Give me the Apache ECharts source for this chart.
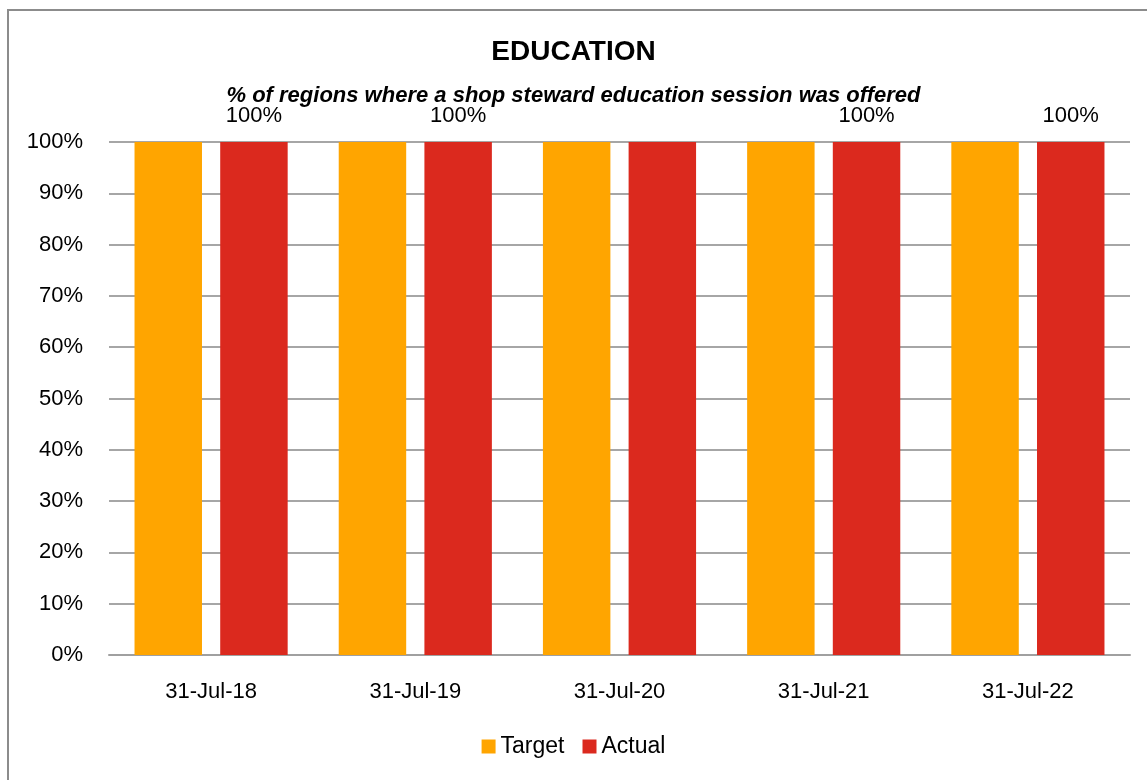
<!DOCTYPE html>
<html>
<head>
<meta charset="utf-8">
<script src="https://cdn.jsdelivr.net/npm/echarts@6/dist/echarts.min.js"></script>
<style>
    html, body { margin: 0; padding: 0; background: #fff; }
    #edu-chart { width: 1147px; height: 780px; }
</style>
</head>
<body>
<div id="edu-chart"></div>
<script type="text/javascript">
    // data
    var categories = ['31-Jul-18', '31-Jul-19', '31-Jul-20', '31-Jul-21', '31-Jul-22'];
    var targetValues = [100, 100, 100, 100, 100];
    var actualValues = [100, 100, 100, 100, 100];
    // the 31-Jul-20 bar has no label in the original
    var actualLabelShown = [true, true, false, true, true];
    var yTicks = [0, 10, 20, 30, 40, 50, 60, 70, 80, 90, 100];

    var font = 'Liberation Sans';

    var actualData = actualValues.map(function (v, i) {
        return {value: v, label: {show: actualLabelShown[i]}};
    });

    var myChart = echarts.init(document.getElementById('edu-chart'));
    var option = {
        animation: false,
        textStyle: {fontFamily: font},
        graphic: [{
            type: 'rect',
            shape: {x: 8, y: 10, width: 1160, height: 800},
            style: {fill: 'none', stroke: '#8c8c8c', lineWidth: 2},
            silent: true
        }],
        title: [{
            text: 'EDUCATION',
            left: 'center',
            top: 33,
            textStyle: {fontFamily: font, fontSize: 28, fontWeight: 'bold', color: '#000'}
        }, {
            text: '% of regions where a shop steward education session was offered',
            left: 'center',
            top: 80,
            textStyle: {fontFamily: font, fontSize: 22, fontWeight: 'bold', fontStyle: 'italic', color: '#000'}
        }],
        legend: {
            bottom: 17,
            left: 'center',
            itemWidth: 14,
            itemHeight: 14,
            itemGap: 18,
            icon: 'rect',
            textStyle: {fontFamily: font, fontSize: 23, color: '#000'},
            data: ['Target', 'Actual']
        },
        grid: {left: 109, right: 17, top: 142, bottom: 125, containLabel: false},
        xAxis: {
            type: 'category',
            data: categories,
            axisLine: {lineStyle: {color: '#a0a0a0', width: 2}},
            axisTick: {show: false},
            axisLabel: {fontFamily: font, fontSize: 22, color: '#000', margin: 26}
        },
        yAxis: {
            type: 'value',
            min: yTicks[0],
            max: yTicks[yTicks.length - 1],
            interval: 10,
            axisLine: {show: false},
            axisTick: {show: false},
            axisLabel: {fontFamily: font, fontSize: 22, color: '#000', margin: 26, formatter: '{value}%'},
            splitLine: {lineStyle: {color: '#a6a6a6', width: 2}}
        },
        series: [{
            name: 'Target',
            type: 'bar',
            data: targetValues,
            barGap: '27%',
            barCategoryGap: '25%',
            itemStyle: {color: '#FFA500'}
        }, {
            name: 'Actual',
            type: 'bar',
            data: actualData,
            itemStyle: {color: '#DB291E'},
            label: {
                show: true,
                position: 'top',
                distance: 15,
                formatter: '{c}%',
                fontFamily: font,
                fontSize: 22,
                color: '#000'
            }
        }]
    };
    myChart.setOption(option);
</script>
</body>
</html>
